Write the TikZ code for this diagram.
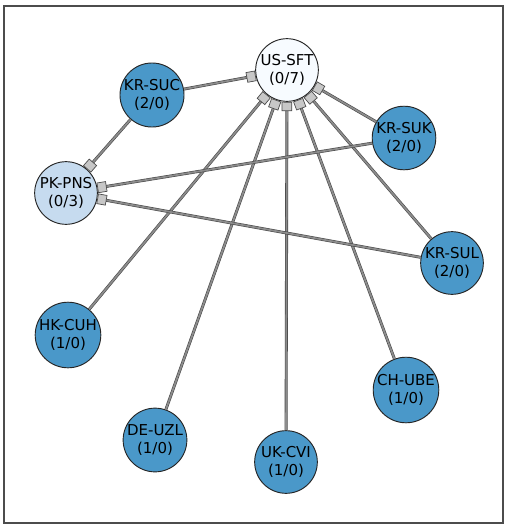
\documentclass[tikz,border=0pt]{standalone}
\usepackage{fontspec}
\setmainfont{DejaVu Sans}
\usepackage{xcolor}
\usetikzlibrary{arrows.meta}
\definecolor{nodedark}{RGB}{74,152,201}
\definecolor{nodelight}{RGB}{198,219,239}
\definecolor{nodewhite}{RGB}{247,251,255}

\begin{document}
\begin{tikzpicture}[
  x=0.03cm,y=-0.03cm,
  site/.style={circle,draw=black!85,line width=0.8pt,fill=nodedark,
               minimum size=1.88cm,inner sep=0pt,align=center,
               font=\fontsize{12.8}{15.5}\selectfont},
  sitelight/.style={site,fill=nodelight},
  sitewhite/.style={site,fill=nodewhite},
  edge/.style={draw=black!72,double=black!45,line width=0.5pt,double distance=1.5pt,
               -{Rectangle[length=8pt,width=9pt,fill=black!22,color=black!70,line width=0.6pt]}}
]
\useasboundingbox (0,0) rectangle (510,529);
\draw[black!70,line width=1pt] (4,6) rectangle (503,523);

\node[sitewhite] (ussft) at (287,70) {US-SFT\\(0/7)};
\node[site] (krsuc) at (152,95) {KR-SUC\\(2/0)};
\node[sitelight] (pkpns) at (66,193) {PK-PNS\\(0/3)};
\node[site] (krsuk) at (404,138) {KR-SUK\\(2/0)};
\node[site] (krsul) at (452,263) {KR-SUL\\(2/0)};
\node[site] (hkcuh) at (68,335) {HK-CUH\\(1/0)};
\node[site] (deuzl) at (155,440) {DE-UZL\\(1/0)};
\node[site] (ukcvi) at (286,462) {UK-CVI\\(1/0)};
\node[site] (chube) at (406,390) {CH-UBE\\(1/0)};

% edges into US-SFT
\foreach \src in {krsuc,krsuk,krsul,hkcuh,deuzl,ukcvi,chube}
  \draw[edge] (\src) -- (ussft);
% edges into PK-PNS
\foreach \src in {krsuc,krsuk,krsul}
  \draw[edge] (\src) -- (pkpns);
\end{tikzpicture}
\end{document}
